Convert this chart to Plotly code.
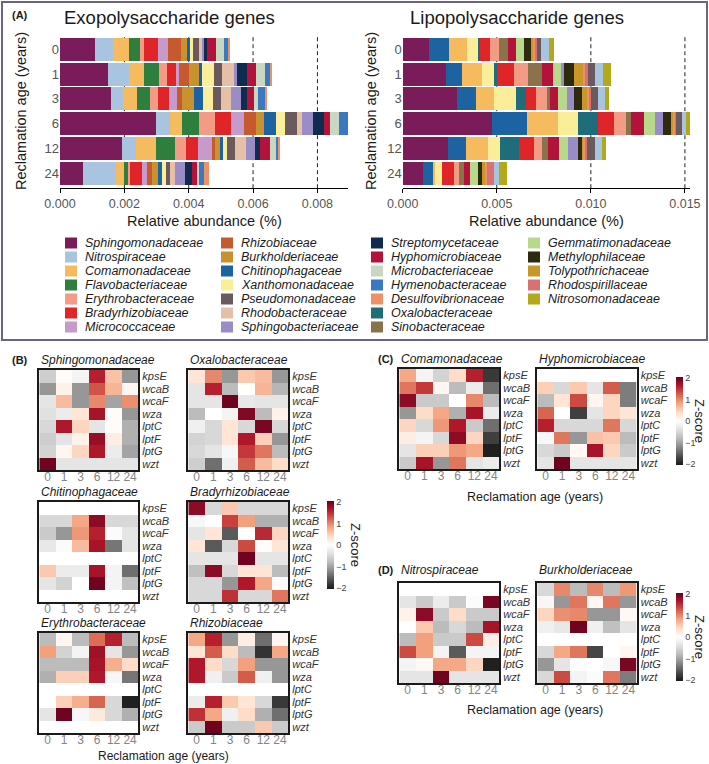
import plotly.graph_objects as go

W, H = 709, 764

years = ["0", "1", "3", "6", "12", "24"]
genes = ["kpsE", "wcaB", "wcaF", "wza", "lptC", "lptF", "lptG", "wzt"]

legend_col1 = ["Sphingomonadaceae", "Nitrospiraceae", "Comamonadaceae", "Flavobacteriaceae",
               "Erythrobacteraceae", "Bradyrhizobiaceae", "Micrococcaceae"]
legend_col2 = ["Rhizobiaceae", "Burkholderiaceae", "Chitinophagaceae", "Xanthomonadaceae",
               "Pseudomonadaceae", "Rhodobacteraceae", "Sphingobacteriaceae"]
legend_col3 = ["Streptomycetaceae", "Hyphomicrobiaceae", "Microbacteriaceae", "Hymenobacteraceae",
               "Desulfovibrionaceae", "Oxalobacteraceae", "Sinobacteraceae"]
legend_col4 = ["Gemmatimonadaceae", "Methylophilaceae", "Tolypothrichaceae", "Rhodospirillaceae",
               "Nitrosomonadaceae"]

colors_col1 = ["#7b1c5a", "#a9c4e0", "#f7bb5f", "#2e7f3e", "#f39b85", "#df2528", "#c69bcb"]
colors_col2 = ["#c65a2e", "#c8922e", "#1d62a1", "#fbee9b", "#6a5a5e", "#e6c0a6", "#9a8dc7"]
colors_col3 = ["#0f2b50", "#b3123b", "#c7d7c1", "#3a78c1", "#ee9168", "#1f6c7b", "#8a734a"]
colors_col4 = ["#b8d88b", "#2e2a10", "#c99729", "#d87272", "#b1a81a"]

# Exopolysaccharide genes: stacking order of families
eps_families = ["Sphingomonadaceae", "Nitrospiraceae", "Comamonadaceae", "Flavobacteriaceae",
                "Erythrobacteraceae", "Bradyrhizobiaceae", "Micrococcaceae", "Rhizobiaceae",
                "Burkholderiaceae", "Chitinophagaceae", "Xanthomonadaceae", "Pseudomonadaceae",
                "Rhodobacteraceae", "Sphingobacteriaceae", "Streptomycetaceae", "Hyphomicrobiaceae",
                "Microbacteriaceae", "Hymenobacteraceae", "Desulfovibrionaceae"]
eps_year0 = [0.001086, 0.000569, 0.000486, 0.000341, 0.000135, 0.000435, 0.000290, 0.000404, 0.000207,
             0.000114, 0.000052, 0.000228, 0.000052, 0.000083, 0.000093, 0.000269, 0.000248, 0.000124, 0.000062]
eps_year1 = [0.001480, 0.000662, 0.000476, 0.000466, 0.000228, 0.000290, 0.000103, 0.000310, 0.000300,
             0.000103, 0.000362, 0.000269, 0.000362, 0.000103, 0.000300, 0.000290, 0.000259, 0.000176, 0.000062]
eps_year3 = [0.001573, 0.000393, 0.000435, 0.000393, 0.000238, 0.000352, 0.000238, 0.000155, 0.000393,
             0.000279, 0.000310, 0.000259, 0.000290, 0.000331, 0.000176, 0.000217, 0.000124, 0.000228, 0.000052]
eps_year6 = [0.002970, 0.000445, 0.000362, 0.000538, 0.000517, 0.000476, 0.000414, 0.000383, 0.000238,
             0.000383, 0.000279, 0.000362, 0.000155, 0.000341, 0.000341, 0.000176, 0.000279, 0.000290, 0.0]
eps_year12 = [0.001914, 0.000435, 0.000621, 0.000600, 0.000331, 0.000393, 0.000435, 0.000103, 0.000135,
              0.000103, 0.000135, 0.000228, 0.000341, 0.000279, 0.000155, 0.000310, 0.000207, 0.000052, 0.000031]
eps_year24 = [0.000724, 0.001004, 0.000259, 0.000114, 0.000072, 0.000383, 0.000135, 0.000155, 0.000186,
              0.000124, 0.000124, 0.000135, 0.000155, 0.000310, 0.000228, 0.000135, 0.000072, 0.000166, 0.000145]

# Lipopolysaccharide genes: stacking order of families
lps_families = ["Sphingomonadaceae", "Chitinophagaceae", "Comamonadaceae", "Xanthomonadaceae",
                "Oxalobacteraceae", "Bradyrhizobiaceae", "Erythrobacteraceae", "Sinobacteraceae",
                "Hyphomicrobiaceae", "Gemmatimonadaceae", "Sphingobacteriaceae", "Methylophilaceae",
                "Tolypothrichaceae", "Desulfovibrionaceae", "Rhodospirillaceae", "Pseudomonadaceae",
                "Nitrospiraceae", "Nitrosomonadaceae"]
lps_year0 = [0.001401, 0.001082, 0.000922, 0.000621, 0.000106, 0.000496, 0.000479, 0.000496, 0.000443,
             0.000408, 0.0, 0.000355, 0.000106, 0.000106, 0.000106, 0.000248, 0.000390, 0.000284]
lps_year1 = [0.002305, 0.000833, 0.001099, 0.000621, 0.000142, 0.000940, 0.000745, 0.000745, 0.000532,
             0.000443, 0.000142, 0.000532, 0.000479, 0.000142, 0.000142, 0.000355, 0.000426, 0.000443]
lps_year3 = [0.002908, 0.000993, 0.000975, 0.001135, 0.000532, 0.000532, 0.000585, 0.000177, 0.000443,
             0.000443, 0.000390, 0.000443, 0.000230, 0.000142, 0.000071, 0.000372, 0.000355, 0.000213]
lps_year6 = [0.004734, 0.001862, 0.001684, 0.001011, 0.001082, 0.000869, 0.000638, 0.000248, 0.000709,
             0.000550, 0.000443, 0.000443, 0.000089, 0.000124, 0.000053, 0.000301, 0.000230, 0.000213]
lps_year12 = [0.002394, 0.000975, 0.001152, 0.000656, 0.001011, 0.000798, 0.000443, 0.000319, 0.000585,
              0.000426, 0.000532, 0.000230, 0.000089, 0.000089, 0.000089, 0.000443, 0.000355, 0.000230]
lps_year24 = [0.001064, 0.000532, 0.000142, 0.000372, 0.0, 0.000621, 0.000284, 0.000248, 0.000319,
              0.000408, 0.0, 0.000248, 0.000142, 0.000089, 0.000390, 0.0, 0.000284, 0.000390]

eps_ticks = [0.0, 0.002, 0.004, 0.006, 0.008]
lps_ticks = [0.0, 0.005, 0.010, 0.015]

# Z-scores (rows = genes, columns = reclamation ages)
z_sphingomonadaceae = [[-0.6, 0.05, -0.15, 1.6, 0.6, -1.1], [-1.1, 0.15, -1.1, 1.3, 0.7, 0.1],
                       [-0.35, 0.65, -1.1, 1.0, -1.0, 0.95], [-0.4, -0.25, 0.3, 1.7, 0.05, -1.1],
                       [-0.5, 1.65, 0.45, -0.35, 0.05, -0.9], [-0.6, -0.35, 0.15, 1.8, 0.2, -0.9],
                       [-0.55, 0.1, 0.45, 1.65, -0.25, -1.0], [2.0, -0.35, -0.35, -0.35, -0.35, -0.35]]
z_oxalobacteraceae = [[0.3, 1.0, -1.1, 0.55, 0.65, -1.1], [-0.35, 1.6, -0.8, 0.0, 0.7, -0.85],
                      [-0.35, -0.35, 2.0, -0.3, -0.35, -0.35], [-0.8, 0.0, -0.15, 1.9, -0.8, 0.15],
                      [-0.2, -0.5, 0.3, -0.5, 1.95, -0.5], [-0.55, -0.5, 0.3, 1.65, 0.5, -1.1],
                      [-0.5, -0.35, -0.1, 1.45, 1.1, -0.8], [-0.6, -1.4, -0.2, 1.25, 0.65, 0.4]]
z_chitinophagaceae = [[0.0, 0.0, 0.0, 0.0, 0.0, 0.0], [-0.5, -0.5, 0.8, 1.85, -0.5, -0.5],
                      [-0.65, -1.1, 0.9, 1.6, -0.05, -0.35], [-0.3, -0.05, 0.65, 1.7, -1.35, -0.35],
                      [0.0, 0.0, 0.0, 0.0, 0.0, 0.0], [0.55, -0.25, -0.25, 1.7, -0.15, -1.4],
                      [-0.35, -0.55, 0.0, 2.0, -0.15, -0.75], [0.0, 0.0, 0.0, 0.0, 0.0, 0.0]]
z_bradyrhizobiaceae = [[1.85, -0.5, 0.55, -0.5, -0.5, -0.5], [-0.1, 0.0, 1.4, 0.85, -0.9, -0.9],
                       [-0.35, 0.3, -1.55, 0.0, 1.55, 0.45], [0.3, -1.55, -0.5, 1.35, 0.02, 0.3],
                       [-0.35, -0.35, -0.35, 2.0, -0.35, -0.35], [-0.75, 1.85, -0.5, 0.3, 0.3, -0.8],
                       [-0.5, -0.5, -1.1, 1.65, 0.8, -0.05], [-0.5, -0.5, 1.5, -0.5, -0.5, 1.1]]
z_erythrobacteraceae = [[-0.8, 0.1, -0.8, 1.15, 1.6, -0.8], [0.85, -0.55, -0.15, 1.75, -0.35, -1.1],
                        [-0.8, -0.8, -0.8, 1.7, 0.75, 0.4], [-0.9, 0.5, 0.5, 1.65, -0.1, -1.35],
                        [0.0, 0.0, 0.0, 0.0, 0.0, 0.0], [0.0, 0.5, 0.75, 1.2, -0.5, -2.0],
                        [-0.35, 2.0, -0.1, 0.25, -0.5, -0.9], [0.0, 0.0, 0.0, 0.0, 0.0, 0.0]]
z_rhizobiaceae = [[0.8, 1.6, -1.1, 0.2, -1.4, 0.1], [0.3, 1.25, 0.4, -0.8, -1.85, 0.8],
                  [1.65, 0.4, -0.5, 0.85, -1.1, -1.1], [1.65, -0.2, -0.65, 1.25, -0.2, -1.1],
                  [0.0, 0.0, 0.0, 0.0, 0.0, 0.0], [-0.25, 1.6, 0.55, 0.3, -0.5, -1.8],
                  [1.5, 0.8, -0.2, 0.4, -0.9, -1.4], [-0.65, 2.0, -0.65, -0.65, 0.55, -0.65]]
z_comamonadaceae = [[0.8, -0.15, -0.55, 0.4, 1.6, -1.8], [1.1, 1.45, 0.1, -0.8, -0.25, -1.4],
                    [1.85, -0.65, -0.65, 0.0, 1.0, -0.8], [-1.1, 0.4, 0.8, -0.9, 1.7, -0.25],
                    [0.45, -0.5, 0.9, 1.65, -0.65, -1.4], [0.2, -0.15, -0.5, 1.85, 0.45, -1.75],
                    [-0.35, 0.5, 0.5, 0.9, 0.8, -2.0], [-0.65, 1.7, -1.1, 1.1, -0.35, -0.25]]
z_hyphomicrobiaceae = [[0.0, 0.0, 0.0, 0.0, 0.0, 0.0], [0.5, -0.5, 0.55, -0.35, 1.25, -1.3],
                       [-0.8, 0.3, 1.35, 0.1, 0.45, -1.3], [1.2, 0.0, -1.75, -0.35, 0.45, 0.3],
                       [1.6, -0.5, -0.5, -0.5, 1.1, -0.5], [-0.1, 1.1, -1.1, 0.6, 0.55, -0.8],
                       [-0.5, -0.65, 0.08, 1.7, 0.45, -0.65], [-0.35, 2.0, -0.35, -0.35, -0.35, -0.35]]
z_nitrospiraceae = [[0.0, 0.0, 0.0, 0.0, 0.0, 0.0], [-0.35, -0.65, -0.25, -0.65, -0.05, 1.95],
                    [0.15, 1.85, -0.65, 0.4, -0.65, -0.65], [0.0, 0.55, -0.8, -0.5, -0.8, 1.7],
                    [-0.8, 0.85, -0.65, -0.65, 1.35, 0.2], [1.35, 0.85, -0.15, -1.55, -0.15, -0.15],
                    [-0.15, 0.08, 0.8, 0.8, 0.45, -2.0], [-0.35, -0.35, 2.0, -0.35, -0.35, -0.35]]
z_burkholderiaceae = [[-0.5, 1.0, -0.8, 1.0, -0.8, 0.9], [-0.1, -1.1, 1.1, 0.1, 1.1, -1.1],
                      [0.45, 0.95, 1.0, -1.1, -1.1, 0.08], [-0.2, -0.3, 2.0, -0.2, -0.75, -0.35],
                      [0.0, 0.0, 0.0, 0.0, 0.0, 0.0], [-0.5, 0.8, 1.1, -1.7, 0.0, 0.1],
                      [-1.1, -0.35, -0.02, 0.0, -0.1, 1.95], [-0.5, 1.35, -0.15, -0.05, 1.1, -1.3]]

zscale = [[0.0, "#1a1a1a"], [0.1, "#4d4d4d"], [0.2, "#878787"], [0.3, "#bababa"], [0.4, "#e0e0e0"],
          [0.5, "#ffffff"], [0.6, "#fddbc7"], [0.7, "#f4a582"], [0.8, "#d6604d"], [0.9, "#b2182b"],
          [1.0, "#67001f"]]

FONT = "Liberation Sans, Arial, sans-serif"


def fx(p):
    return p / W


def fy(p):
    return 1 - p / H


legend_families = legend_col1 + legend_col2 + legend_col3 + legend_col4
family_colors = colors_col1 + colors_col2 + colors_col3 + colors_col4
color_of = dict(zip(legend_families, family_colors))

fig = go.Figure()
layout = dict(width=W, height=H, margin=dict(l=0, r=0, t=0, b=0, autoexpand=False),
              paper_bgcolor="white", plot_bgcolor="white", barmode="stack", bargap=0.08,
              showlegend=False, font=dict(family=FONT, color="#222"))
shapes = []
annotations = []


def ann(text, x, y, size, xanchor="left", yanchor="middle", angle=0, color="#1a1a1a",
        italic=False, bold=False):
    annotations.append(dict(text=text, x=fx(x), y=fy(y), xref="paper", yref="paper",
                            showarrow=False, xanchor=xanchor, yanchor=yanchor, textangle=angle,
                            font=dict(size=size, color=color, family=FONT,
                                      style="italic" if italic else "normal",
                                      weight="bold" if bold else "normal")))


# ---------- Panel A: stacked bars ----------
bar_panels = [
    ("x", "y", eps_families, [eps_year0, eps_year1, eps_year3, eps_year6, eps_year12, eps_year24],
     (60, 348), [0, 0.00895], eps_ticks, ["0.000", "0.002", "0.004", "0.006", "0.008"]),
    ("x2", "y2", lps_families, [lps_year0, lps_year1, lps_year3, lps_year6, lps_year12, lps_year24],
     (402.7, 690), [0, 0.01527], lps_ticks, ["0.000", "0.005", "0.010", "0.015"]),
]
bar_top, bar_bottom = 34.4, 188.2
for xa, ya, fams, rows, (xl, xr), rng, ticks, tick_text in bar_panels:
    for i, fam in enumerate(fams):
        fig.add_trace(go.Bar(y=years, x=[r[i] for r in rows], orientation="h", name=fam,
                             marker=dict(color=color_of[fam], line=dict(width=0)),
                             xaxis=xa, yaxis=ya, hoverinfo="x+name"))
    xkey = "xaxis" if xa == "x" else "xaxis" + xa[1:]
    ykey = "yaxis" if ya == "y" else "yaxis" + ya[1:]
    layout[xkey] = dict(domain=[fx(xl), fx(xr)], anchor=ya, range=rng, tickvals=ticks,
                        ticktext=tick_text, showgrid=False, zeroline=False, showline=True,
                        linecolor="black", linewidth=1, ticks="outside", ticklen=4,
                        tickcolor="black", tickfont=dict(size=12.5, color="#555"))
    layout[ykey] = dict(domain=[fy(bar_bottom), fy(bar_top)], anchor=xa, type="category",
                        categoryorder="array", categoryarray=years, range=[5.6, -0.6],
                        tickmode="array", tickvals=years,
                        showgrid=False, zeroline=False, showline=False, ticks="",
                        tickfont=dict(size=13, color="#555"))
    for v in ticks[1:]:
        shapes.append(dict(type="line", xref=xa, yref=ya + " domain", x0=v, x1=v, y0=0, y1=1,
                           line=dict(color="#222", width=1, dash="4px,3px"), layer="below"))

ann("(A)", 10, 15, 11, bold=True)
ann("Exopolysaccharide genes", 62, 18, 18.5)
ann("Lipopolysaccharide genes", 408, 18, 18.5)
ann("Reclamation age (years)", 21, 111, 14.5, xanchor="center", angle=-90)
ann("Reclamation age (years)", 371, 111, 14.5, xanchor="center", angle=-90)
ann("Relative abundance (%)", 204, 221, 14.5, xanchor="center")
ann("Relative abundance (%)", 546, 221, 14.5, xanchor="center")

# legend (built from the family lists)
leg_x = [65, 221, 371, 528]
for c, (names, cols) in enumerate([(legend_col1, colors_col1), (legend_col2, colors_col2),
                                   (legend_col3, colors_col3), (legend_col4, colors_col4)]):
    for r, (nm, col) in enumerate(zip(names, cols)):
        yc = 243 + 14.0 * r
        shapes.append(dict(type="rect", xref="paper", yref="paper", x0=fx(leg_x[c]),
                           x1=fx(leg_x[c] + 12), y0=fy(yc + 5.5), y1=fy(yc - 5.5),
                           fillcolor=col, line=dict(width=0)))
        ann(nm, leg_x[c] + 18, yc, 12.5, italic=True)

shapes.append(dict(type="rect", xref="paper", yref="paper", x0=fx(2), x1=fx(707), y0=fy(340),
                   y1=fy(2), line=dict(color="#6e6384", width=2), fillcolor="rgba(0,0,0,0)"))

# ---------- Panels B, C, D: heatmaps ----------
heatmaps = [
    ("Sphingomonadaceae", z_sphingomonadaceae, "coloraxis", (39.3, 138.3), 370, 10),
    ("Oxalobacteraceae", z_oxalobacteraceae, "coloraxis", (188.3, 288.3), 370, 10),
    ("Chitinophagaceae", z_chitinophagaceae, "coloraxis", (39.3, 138.3), 502, 10),
    ("Bradyrhizobiaceae", z_bradyrhizobiaceae, "coloraxis", (188.3, 288.3), 502, 10),
    ("Erythrobacteraceae", z_erythrobacteraceae, "coloraxis", (39.3, 138.3), 633, 10),
    ("Rhizobiaceae", z_rhizobiaceae, "coloraxis", (188.3, 288.3), 633, 10),
    ("Comamonadaceae", z_comamonadaceae, "coloraxis2", (399.3, 499.3), 369, 10),
    ("Hyphomicrobiaceae", z_hyphomicrobiaceae, "coloraxis2", (537.3, 636.7), 369, 10),
    ("Nitrospiraceae", z_nitrospiraceae, "coloraxis3", (399.3, 499.3), 583, 13),
    ("Burkholderiaceae", z_burkholderiaceae, "coloraxis3", (537.3, 636.7), 583, 13),
]
HM_H = 100
for k, (name, z, cax, (xl, xr), top, gap) in enumerate(heatmaps):
    n = k + 3
    xa, ya = "x%d" % n, "y%d" % n
    fig.add_trace(go.Heatmap(z=z, x=years, y=genes, coloraxis=cax, xaxis=xa, yaxis=ya,
                             name=name, xgap=0, ygap=0))
    layout["xaxis%d" % n] = dict(domain=[fx(xl), fx(xr)], anchor=ya, type="category",
                                 tickmode="array", tickvals=years, ticklabelstandoff=-5,
                                 showline=True, mirror=True, linecolor="#1a1a1a", linewidth=1.6,
                                 ticks="", showgrid=False, zeroline=False,
                                 tickfont=dict(size=12, color="#858585"))
    layout["yaxis%d" % n] = dict(domain=[fy(top + HM_H), fy(top)], anchor=xa, type="category",
                                 tickmode="array", tickvals=genes,
                                 side="right", autorange="reversed", showline=True, mirror=True,
                                 linecolor="#1a1a1a", linewidth=1.6, ticks="", showgrid=False,
                                 zeroline=False,
                                 tickfont=dict(size=11, color="#333", style="italic"))
    ann(name, xl, top - gap, 12, italic=True)


def cbar(xp, yc):
    return dict(x=fx(xp), xanchor="left", y=fy(yc), yanchor="middle", len=88,
                lenmode="pixels", thickness=7, outlinewidth=0, xpad=0, ypad=0,
                tickvals=[-2, -1, 0, 1, 2], ticks="", tickfont=dict(size=9, color="#444"))


layout["coloraxis"] = dict(cmin=-2.05, cmax=2.05, colorscale=zscale, colorbar=cbar(327, 545))
layout["coloraxis2"] = dict(cmin=-2.05, cmax=2.05, colorscale=zscale, colorbar=cbar(676, 421))
layout["coloraxis3"] = dict(cmin=-2.05, cmax=2.05, colorscale=zscale, colorbar=cbar(676, 637))

ann("Z-score", 356, 545, 13, xanchor="center", angle=90)
ann("Z-score", 700, 421, 13, xanchor="center", angle=90)
ann("Z-score", 700, 637, 13, xanchor="center", angle=90)

ann("(B)", 10, 360, 11, bold=True)
ann("(C)", 376, 359, 11, bold=True)
ann("(D)", 376, 570, 11, bold=True)

ann("Reclamation age (years)", 163.7, 756, 12, xanchor="center")
ann("Reclamation age (years)", 535, 497, 12.5, xanchor="center")
ann("Reclamation age (years)", 535, 710, 12.5, xanchor="center")

layout["shapes"] = shapes
layout["annotations"] = annotations
fig.update_layout(**layout)
fig.write_html("out.html", config={"displayModeBar": False},
               post_script="document.body.style.margin='0px';document.body.style.overflow='hidden';")
